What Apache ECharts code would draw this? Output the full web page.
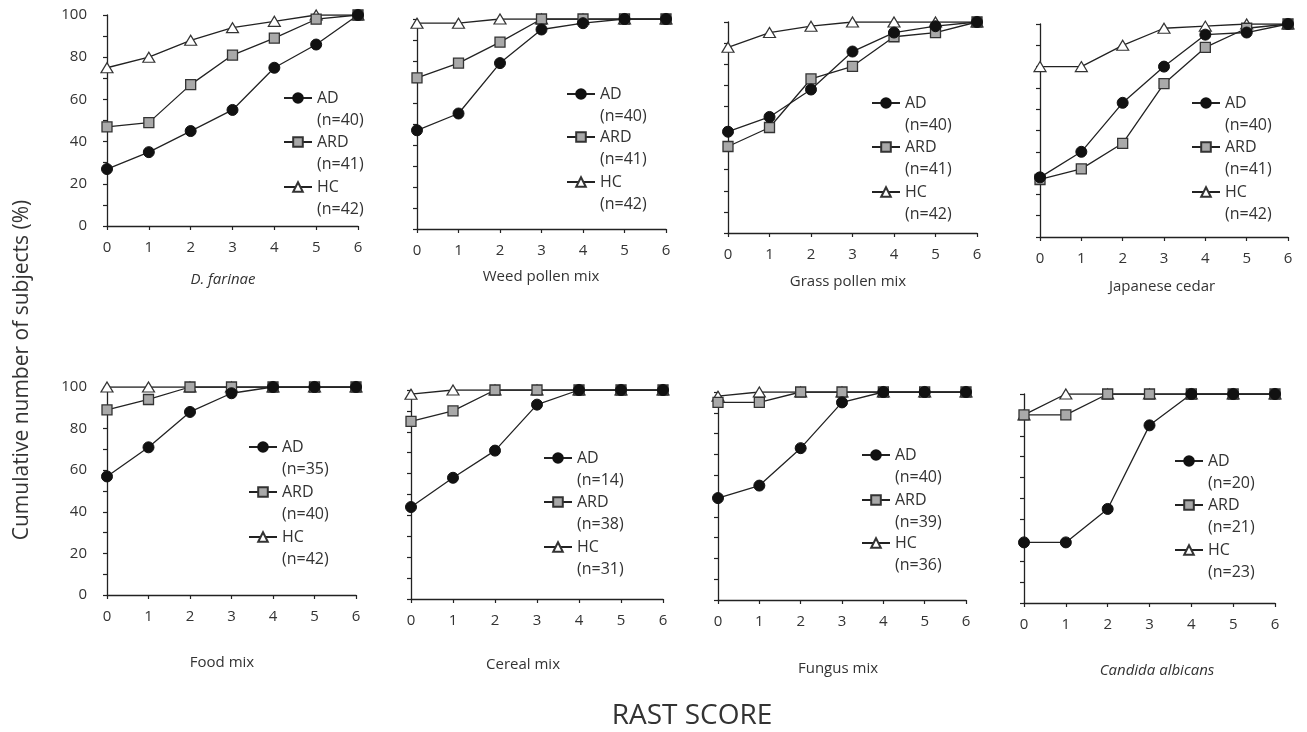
<!DOCTYPE html>
<html>
<head>
<meta charset="utf-8">
<script src="https://cdn.jsdelivr.net/npm/echarts@6/dist/echarts.min.js"></script>
<style>
html,body{margin:0;padding:0;background:#fff;}
#chart{width:1307px;height:732px;}
</style>
</head>
<body>
<div id="chart"></div>
<script>
// ---------- DATA ----------
const scores = [0, 1, 2, 3, 4, 5, 6];
const panelTitles = ['D. farinae', 'Weed pollen mix', 'Grass pollen mix', 'Japanese cedar',
                     'Food mix', 'Cereal mix', 'Fungus mix', 'Candida albicans'];
const italicTitle = [true, false, false, false, false, false, false, true];

const adValues = [
  [27, 35, 45, 55, 75, 86, 100],
  [47, 55, 79, 95, 98, 100, 100],
  [48, 55, 68, 86, 95, 98, 100],
  [28, 40, 63, 80, 95, 96, 100],
  [57, 71, 88, 97, 100, 100, 100],
  [44, 58, 71, 93, 100, 100, 100],
  [49, 55, 73, 95, 100, 100, 100],
  [29, 29, 45, 85, 100, 100, 100]
];
const ardValues = [
  [47, 49, 67, 81, 89, 98, 100],
  [72, 79, 89, 100, 100, 100, 100],
  [41, 50, 73, 79, 93, 95, 100],
  [27, 32, 44, 72, 89, 98, 100],
  [89, 94, 100, 100, 100, 100, 100],
  [85, 90, 100, 100, 100, 100, 100],
  [95, 95, 100, 100, 100, 100, 100],
  [90, 90, 100, 100, 100, 100, 100]
];
const hcValues = [
  [75, 80, 88, 94, 97, 100, 100],
  [98, 98, 100, 100, 100, 100, 100],
  [88, 95, 98, 100, 100, 100, 100],
  [80, 80, 90, 98, 99, 100, 100],
  [100, 100, 100, 100, 100, 100, 100],
  [98, 100, 100, 100, 100, 100, 100],
  [98, 100, 100, 100, 100, 100, 100],
  [90, 100, 100, 100, 100, 100, 100]
];
const nAD  = [40, 40, 40, 40, 35, 14, 40, 20];
const nARD = [41, 41, 41, 41, 40, 38, 39, 21];
const nHC  = [42, 42, 42, 42, 42, 31, 36, 23];
const yTickLabels = [0, 20, 40, 60, 80, 100];
const yAxisTitle = 'Cumulative number of subjects (%)';
const xAxisTitle = 'RAST SCORE';

// ---------- LAYOUT ----------
const FONT = '"Open Sans", "Noto Sans", sans-serif';
const grids = [
  {left: 107, top: 15, width: 251, height: 211},
  {left: 417, top: 19, width: 249, height: 210},
  {left: 728, top: 22, width: 249, height: 211},
  {left: 1040, top: 24, width: 248, height: 213},
  {left: 107, top: 387, width: 249, height: 208},
  {left: 411, top: 390, width: 252, height: 209},
  {left: 718, top: 392, width: 248, height: 208},
  {left: 1024, top: 394, width: 251, height: 209}
];
const legendX = [297, 580, 885, 1205, 262, 557, 875, 1188];
const legendRows = [
  [98, 142, 187], [94, 137, 182], [103, 147, 192], [103, 147, 192],
  [447, 492, 537], [458, 502, 547], [455, 500, 543], [461, 505, 550]
];
const titlePos = [
  [223, 280], [541, 277], [848, 282], [1162, 287],
  [222, 663], [523, 665], [838, 669], [1157, 671]
];

const styles = {
  AD:  {symbol: 'circle', symbolSize: 11,
        itemStyle: {color: '#111', borderColor: '#111', borderWidth: 1}},
  ARD: {symbol: 'rect', symbolSize: 10,
        itemStyle: {color: '#a9a9a9', borderColor: '#333', borderWidth: 1.3}},
  HC:  {symbol: 'triangle', symbolSize: [12, 10],
        itemStyle: {color: '#fff', borderColor: '#333', borderWidth: 1.2}}
};

const option = {
  backgroundColor: '#fff',
  animation: false,
  textStyle: {fontFamily: FONT},
  grid: [], xAxis: [], yAxis: [], series: [], legend: [], graphic: []
};

for (let i = 0; i < 8; i++) {
  option.grid.push(Object.assign({containLabel: false}, grids[i]));
  option.xAxis.push({
    gridIndex: i, type: 'value', min: 0, max: 6, interval: 1,
    axisLine: {show: true, lineStyle: {color: '#222', width: 1.3}},
    axisTick: {show: true, length: 4, lineStyle: {color: '#222', width: 1.2}},
    axisLabel: {margin: 14, fontSize: 15, color: '#333', fontFamily: FONT},
    splitLine: {show: false}
  });
  const labeled = (i === 0 || i === 4);
  option.yAxis.push({
    gridIndex: i, type: 'value', min: 0, max: 100, interval: 10,
    axisLine: {show: true, lineStyle: {color: '#222', width: 1.3}},
    axisTick: {show: true, length: 4, lineStyle: {color: '#222', width: 1.2}},
    axisLabel: {show: labeled, margin: 20, fontSize: 15, color: '#333', fontFamily: FONT,
                formatter: v => (yTickLabels.indexOf(v) >= 0 ? String(v) : '')},
    splitLine: {show: false}
  });
  const sets = [['HC', hcValues[i]], ['ARD', ardValues[i]], ['AD', adValues[i]]];
  sets.forEach(([name, vals]) => {
    option.series.push({
      type: 'line', name: name, xAxisIndex: i, yAxisIndex: i,
      data: scores.map((s, k) => [s, vals[k]]),
      symbol: styles[name].symbol, symbolSize: styles[name].symbolSize,
      showSymbol: true, showAllSymbol: true,
      itemStyle: styles[name].itemStyle,
      lineStyle: {color: '#222', width: 1.3},
      emphasis: {disabled: true}
    });
  });
  const ns = {AD: nAD[i], ARD: nARD[i], HC: nHC[i]};
  ['AD', 'ARD', 'HC'].forEach((name, r) => {
    option.legend.push({
      left: legendX[i] - 14, top: legendRows[i][r] - 33,
      padding: 0, orient: 'vertical', itemWidth: 28, itemHeight: 12, itemGap: 0,
      selectedMode: false, data: [name],
      formatter: nm => '\n' + nm + '\n(n=' + ns[nm] + ')',
      textStyle: {fontSize: 16, lineHeight: 22, color: '#333', fontFamily: FONT}
    });
  });
  option.graphic.push({
    type: 'text', x: titlePos[i][0], y: titlePos[i][1], silent: true,
    style: {text: panelTitles[i], fill: '#333', fontSize: 15, fontFamily: FONT,
            fontStyle: italicTitle[i] ? 'italic' : 'normal',
            align: 'center', verticalAlign: 'middle'}
  });
}
option.graphic.push({
  type: 'text', x: 22, y: 370, rotation: Math.PI / 2, silent: true,
  style: {text: yAxisTitle, fill: '#333', fontSize: 21, fontFamily: FONT,
          align: 'center', verticalAlign: 'middle'}
});
option.graphic.push({
  type: 'text', x: 692, y: 716, silent: true,
  style: {text: xAxisTitle, fill: '#333', fontSize: 28, fontFamily: FONT,
          align: 'center', verticalAlign: 'middle'}
});

const chart = echarts.init(document.getElementById('chart'), null, {renderer: 'canvas'});
chart.setOption(option);
</script>
</body>
</html>
